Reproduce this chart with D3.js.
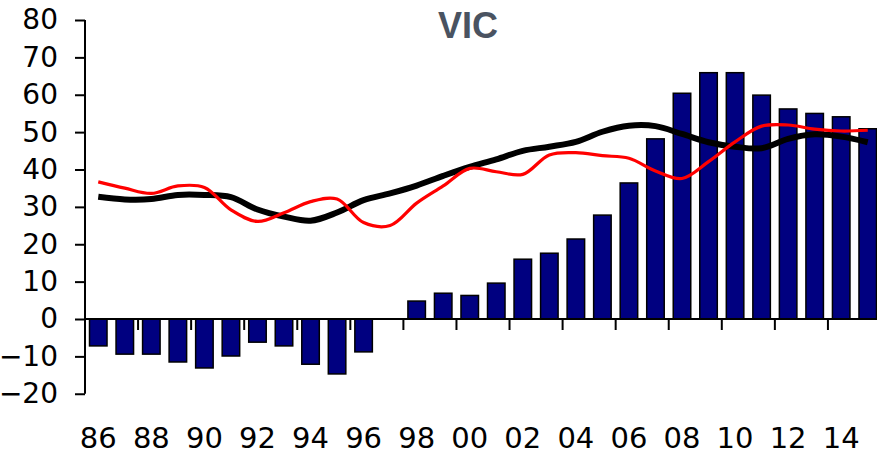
<!DOCTYPE html>
<html>
<head>
<meta charset="utf-8">
<script src="https://cdn.jsdelivr.net/npm/d3@7"></script>
<style>
  html, body { margin: 0; padding: 0; background: #fff; }
  svg { display: block; }
</style>
</head>
<body>
<svg id="chart" width="877" height="455"></svg>
<script>
// Years on the category axis
const years = d3.range(1986, 2016);

// Annual bars (no value for 1997)
const barValues = [
  -7.2, -9.4, -9.4, -11.5, -13.1, -9.9, -6.2, -7.2, -12.1, -14.7,
  -8.8, null, 4.8, 6.9, 6.3, 9.6, 16.0, 17.6, 21.4, 27.8,
  36.4, 48.2, 60.4, 65.9, 65.9, 59.9, 56.2, 55.0, 54.1, 50.9
];

// Thin red series
const redValues = [
  36.7, 35.0, 33.6, 35.6, 35.2, 29.2, 26.1, 28.4, 31.4, 32.1,
  25.8, 25.0, 31.0, 35.6, 40.3, 39.4, 38.7, 43.9, 44.5, 43.7,
  43.0, 39.6, 37.6, 42.1, 47.4, 51.6, 51.9, 50.8, 50.3, 50.5
];

// Thick black series
const blackValues = [
  32.7, 32.0, 32.1, 33.2, 33.2, 32.6, 29.3, 27.4, 26.3, 28.5,
  31.8, 33.6, 35.7, 38.3, 40.7, 42.7, 45.0, 46.1, 47.4, 50.1,
  51.7, 51.6, 49.5, 47.3, 46.1, 45.7, 48.2, 49.4, 48.8, 47.3
];

// Axis tick labels
const yTicks = [-20, -10, 0, 10, 20, 30, 40, 50, 60, 70, 80];
const xTickYears = years.filter((d, i) => i % 2 === 0);
const xTickLabels = xTickYears.map(y => String(y % 100).padStart(2, "0"));

const svg = d3.select("#chart");

const x = d3.scaleBand().domain(years).range([85, 881]).padding(0);
const y = d3.scaleLinear().domain([-20, 80]).range([393.75, 20]);
const barW = x.bandwidth() * 0.66;

// Title
svg.append("text")
  .attr("x", 468).attr("y", 38)
  .attr("text-anchor", "middle")
  .attr("font-family", "'Liberation Sans', Arial, sans-serif")
  .attr("font-weight", "bold")
  .attr("font-size", 36)
  .attr("fill", "#4a5361")
  .text("VIC");

// Bars
const barData = years.map((yr, i) => ({ yr, v: barValues[i] })).filter(d => d.v !== null);
svg.append("g").selectAll("rect")
  .data(barData)
  .join("rect")
  .attr("x", d => x(d.yr) + (x.bandwidth() - barW) / 2)
  .attr("width", barW)
  .attr("y", d => y(Math.max(0, d.v)))
  .attr("height", d => Math.abs(y(d.v) - y(0)))
  .attr("fill", "#000080")
  .attr("stroke", "#000")
  .attr("stroke-width", 1.5);

// Y axis
const yAxis = svg.append("g")
  .attr("transform", "translate(85,0)")
  .call(d3.axisLeft(y).tickValues(yTicks).tickSize(10).tickPadding(17).tickFormat(d3.format("d")));
yAxis.select(".domain").attr("stroke", "#000").attr("stroke-width", 2).attr("d", `M0,${y(80)}V${y(-20)}`);
yAxis.selectAll(".tick line").attr("stroke", "#000").attr("stroke-width", 2);
yAxis.selectAll(".tick text")
  .attr("font-family", "'DejaVu Sans', Verdana, sans-serif")
  .attr("font-size", 28)
  .attr("fill", "#000");

// Category axis along zero
const zero = y(0);
svg.append("line")
  .attr("x1", 85).attr("x2", 881)
  .attr("y1", zero).attr("y2", zero)
  .attr("stroke", "#000").attr("stroke-width", 2);

svg.append("g").selectAll("line")
  .data(xTickYears.slice(1))
  .join("line")
  .attr("x1", d => x(d)).attr("x2", d => x(d))
  .attr("y1", zero).attr("y2", zero + 11)
  .attr("stroke", "#000").attr("stroke-width", 2);

svg.append("g").selectAll("text")
  .data(xTickYears)
  .join("text")
  .attr("x", d => x(d) + x.bandwidth() / 2)
  .attr("y", 448)
  .attr("text-anchor", "middle")
  .attr("font-family", "'DejaVu Sans', Verdana, sans-serif")
  .attr("font-size", 29)
  .attr("fill", "#000")
  .text((d, i) => xTickLabels[i]);

// Smoothed series
const line = d3.line()
  .x(d => x(d.yr) + x.bandwidth() / 2)
  .y(d => y(d.v))
  .curve(d3.curveCatmullRom.alpha(0.5));

svg.append("path")
  .datum(years.map((yr, i) => ({ yr, v: blackValues[i] })))
  .attr("d", line)
  .attr("fill", "none")
  .attr("stroke", "#000")
  .attr("stroke-width", 6);

svg.append("path")
  .datum(years.map((yr, i) => ({ yr, v: redValues[i] })))
  .attr("d", line)
  .attr("fill", "none")
  .attr("stroke", "#ff0000")
  .attr("stroke-width", 3.2);
</script>
</body>
</html>
